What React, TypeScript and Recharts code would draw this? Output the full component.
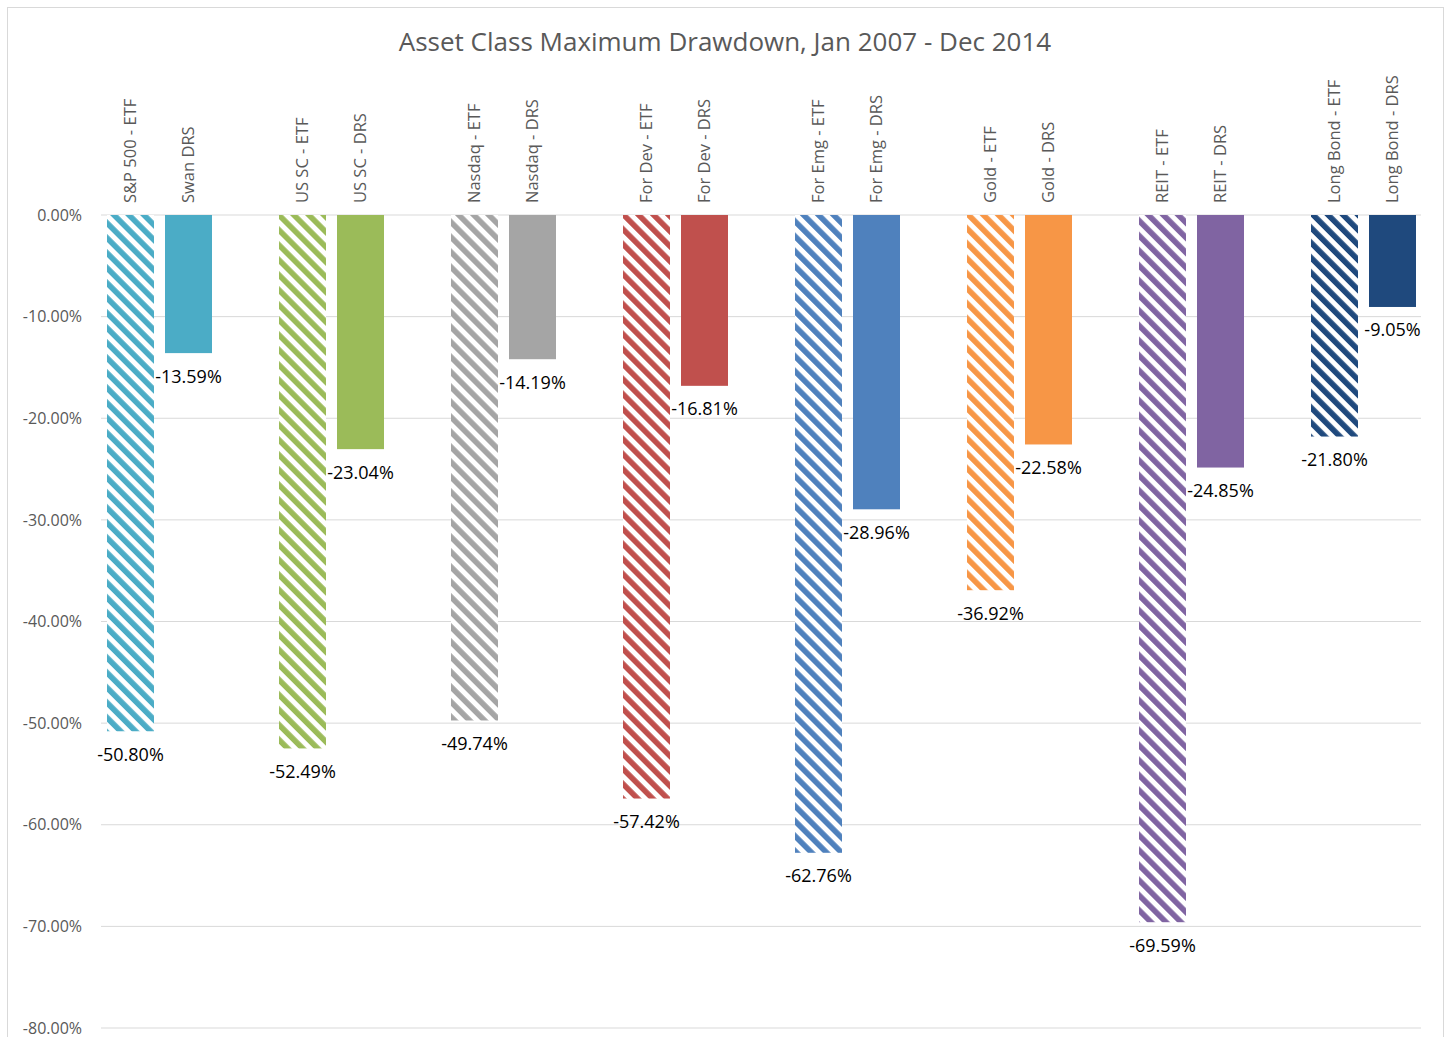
import React from 'react';
import { BarChart, Bar, XAxis, YAxis, CartesianGrid } from 'recharts';

const categories = ['S&P 500', 'US SC', 'Nasdaq', 'For Dev', 'For Emg', 'Gold', 'REIT', 'Long Bond'];
const etfNames = ['S&P 500 - ETF', 'US SC - ETF', 'Nasdaq - ETF', 'For Dev - ETF', 'For Emg - ETF', 'Gold - ETF', 'REIT - ETF', 'Long Bond - ETF'];
const drsNames = ['Swan DRS', 'US SC - DRS', 'Nasdaq - DRS', 'For Dev - DRS', 'For Emg - DRS', 'Gold - DRS', 'REIT - DRS', 'Long Bond - DRS'];
const etfDrawdown = [-50.8, -52.49, -49.74, -57.42, -62.76, -36.92, -69.59, -21.8];
const drsDrawdown = [-13.59, -23.04, -14.19, -16.81, -28.96, -22.58, -24.85, -9.05];
const yTicks = [0, -10, -20, -30, -40, -50, -60, -70, -80];
const seriesColors = ['#4BACC6', '#9BBB59', '#A5A5A5', '#C0504D', '#4F81BD', '#F79646', '#8064A2', '#1F497D'];
const title = 'Asset Class Maximum Drawdown, Jan 2007 - Dec 2014';

const data = categories.map((c, i) => ({
  category: c,
  idx: i,
  etf: etfDrawdown[i],
  drs: drsDrawdown[i],
}));

const FONT = '"Open Sans", sans-serif';

function makeShape(kind: 'etf' | 'drs') {
  return (props: any) => {
    const { x, y, width, height, payload, index } = props;
    const top = Math.min(y, y + height);
    const bottom = Math.max(y, y + height);
    const cx = x + width / 2;
    const i = payload && payload.idx != null ? payload.idx : index;
    const fill = kind === 'etf' ? `url(#stripe-${i})` : seriesColors[i];
    const name = kind === 'etf' ? etfNames[i] : drsNames[i];
    const value = kind === 'etf' ? etfDrawdown[i] : drsDrawdown[i];
    const ly = top - 12;
    return (
      <g>
        <rect x={x} y={top} width={width} height={bottom - top} fill={fill} />
        <text
          x={cx}
          y={ly}
          transform={`rotate(-90 ${cx} ${ly})`}
          dy="0.36em"
          fontSize={16.5}
          fill="#595959"
          fontFamily={FONT}
        >
          {name}
        </text>
        <text x={cx} y={bottom + 29.5} textAnchor="middle" fontSize={18} fill="#000" fontFamily={FONT}>
          {value.toFixed(2)}%
        </text>
      </g>
    );
  };
}

export default function App() {
  return (
    <div style={{ position: 'absolute', left: 0, top: 0, width: 1450, height: 1037, overflow: 'hidden', background: '#fff' }}>
      <div
        style={{
          position: 'absolute',
          left: 7,
          top: 7,
          width: 1437,
          height: 1100,
          border: '1px solid #D9D9D9',
          boxSizing: 'border-box',
        }}
      />
      <svg width={0} height={0} style={{ position: 'absolute', left: 0, top: 0 }}>
        <defs>
          {seriesColors.map((c, i) => (
            <pattern
              key={i}
              id={`stripe-${i}`}
              patternUnits="userSpaceOnUse"
              width={10.6}
              height={10.6}
              patternTransform="rotate(-45)"
            >
              <rect x={0} y={0} width={10.6} height={10.6} fill="#fff" />
              <rect x={0} y={0} width={5.6} height={10.6} fill={c} />
            </pattern>
          ))}
        </defs>
      </svg>
      <div style={{ position: 'absolute', left: 0, top: 0 }}>
        <BarChart
          width={1450}
          height={1037}
          data={data}
          margin={{ top: 215, right: 29, bottom: 9, left: 0 }}
          barSize={47}
          barGap={11}
        >
          <CartesianGrid vertical={false} stroke="#D9D9D9" strokeWidth={1} />
          <XAxis dataKey="category" hide padding={{ left: -28, right: -28 }} />
          <YAxis
            type="number"
            domain={[-80, 0]}
            ticks={yTicks}
            interval={0}
            width={101}
            axisLine={false}
            tickLine={false}
            tickSize={6}
            tickMargin={13}
            tickFormatter={(v: number) => `${v.toFixed(2)}%`}
            tick={{ fontSize: 16, fill: '#595959', fontFamily: FONT }}
          />
          <Bar dataKey="etf" isAnimationActive={false} shape={makeShape('etf')} />
          <Bar dataKey="drs" isAnimationActive={false} shape={makeShape('drs')} />
        </BarChart>
      </div>
      <svg width={1450} height={80} style={{ position: 'absolute', left: 0, top: 0, pointerEvents: 'none' }}>
        <text x={725} y={51} textAnchor="middle" fontSize={26} fill="#595959" fontFamily={FONT}>
          {title}
        </text>
      </svg>
    </div>
  );
}
